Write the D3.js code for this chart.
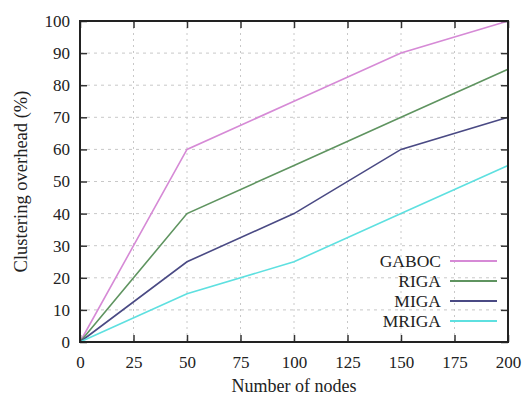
<!DOCTYPE html>
<html>
<head>
<meta charset="utf-8">
<script src="https://cdn.jsdelivr.net/npm/d3@7"></script>
<style>
body { margin: 0; background: #fff; }
</style>
</head>
<body>
<svg id="chart" width="531" height="399"></svg>
<script>
const nodes = [0, 50, 100, 150, 200];
const seriesNames = ["GABOC", "RIGA", "MIGA", "MRIGA"];
const gaboc = [0, 60, 75, 90, 100];
const riga = [0, 40, 55, 70, 85];
const miga = [0, 25, 40, 60, 70];
const mriga = [0, 15, 25, 40, 55];
const colors = ["#d68ad6", "#5f9460", "#4a4a84", "#5ee0e0"];
const xTicks = [0, 25, 50, 75, 100, 125, 150, 175, 200];
const yTicks = [0, 10, 20, 30, 40, 50, 60, 70, 80, 90, 100];

const svg = d3.select("#chart");
const m = {left: 80, right: 508, top: 21, bottom: 342};

const x = d3.scaleLinear().domain([0, 200]).range([m.left, m.right]);
const y = d3.scaleLinear().domain([0, 100]).range([m.bottom, m.top]);

// dotted grid
svg.append("g").selectAll("line")
    .data(xTicks.slice(1, -1))
    .join("line")
    .attr("x1", d => x(d)).attr("x2", d => x(d))
    .attr("y1", m.top).attr("y2", m.bottom)
    .attr("stroke", "#c8c8c8").attr("stroke-dasharray", "2,4");
svg.append("g").selectAll("line")
    .data(yTicks.slice(1, -1))
    .join("line")
    .attr("x1", m.left).attr("x2", m.right)
    .attr("y1", d => y(d)).attr("y2", d => y(d))
    .attr("stroke", "#c8c8c8").attr("stroke-dasharray", "3,4");

// lines
const series = [gaboc, riga, miga, mriga];
const line = d3.line().x((d, i) => x(nodes[i])).y(d => y(d));
svg.append("g").selectAll("path")
    .data(series)
    .join("path")
    .attr("d", d => line(d))
    .attr("fill", "none")
    .attr("stroke", (d, i) => colors[i])
    .attr("stroke-width", 1.6);

// axes, ticks pointing inward on all four sides
const tickStyle = g => {
    g.select(".domain").remove();
    g.selectAll(".tick line").attr("stroke", "#333").attr("stroke-width", 1.5);
};
svg.append("g")
    .attr("transform", `translate(0,${m.bottom})`)
    .call(d3.axisBottom(x).tickValues(xTicks).tickSize(-7).tickPadding(14))
    .call(tickStyle)
    .call(g => g.selectAll("text").attr("font-size", 17));
svg.append("g")
    .attr("transform", `translate(0,${m.top})`)
    .call(d3.axisTop(x).tickValues(xTicks).tickSize(-7).tickFormat(""))
    .call(tickStyle);
svg.append("g")
    .attr("transform", `translate(${m.left},0)`)
    .call(d3.axisLeft(y).tickValues(yTicks).tickSize(-7).tickPadding(10))
    .call(tickStyle)
    .call(g => g.selectAll("text").attr("font-size", 17));
svg.append("g")
    .attr("transform", `translate(${m.right},0)`)
    .call(d3.axisRight(y).tickValues(yTicks).tickSize(-7).tickFormat(""))
    .call(tickStyle);

// frame
svg.append("rect")
    .attr("x", m.left).attr("y", m.top)
    .attr("width", m.right - m.left).attr("height", m.bottom - m.top)
    .attr("fill", "none").attr("stroke", "#222").attr("stroke-width", 2);

// axis titles
svg.append("text")
    .attr("x", (m.left + m.right) / 2).attr("y", 392)
    .attr("text-anchor", "middle").attr("font-size", 18)
    .text("Number of nodes");
svg.append("text")
    .attr("transform", `translate(27,${(m.top + m.bottom) / 2}) rotate(-90)`)
    .attr("text-anchor", "middle").attr("font-size", 18.5)
    .text("Clustering overhead (%)");

// legend
const leg = svg.append("g").selectAll("g")
    .data(seriesNames)
    .join("g")
    .attr("transform", (d, i) => `translate(0,${261 + i * 20})`);
leg.append("text")
    .attr("x", 441).attr("y", 6)
    .attr("text-anchor", "end").attr("font-size", 17.5)
    .text(d => d);
leg.append("line")
    .attr("x1", 450).attr("x2", 497)
    .attr("stroke", (d, i) => colors[i]).attr("stroke-width", 1.8);

// css font rule did not stick, set it inline
svg.selectAll("text")
    .style("font-family", "'Liberation Serif'")
    .style("fill", "#222");
</script>
</body>
</html>
